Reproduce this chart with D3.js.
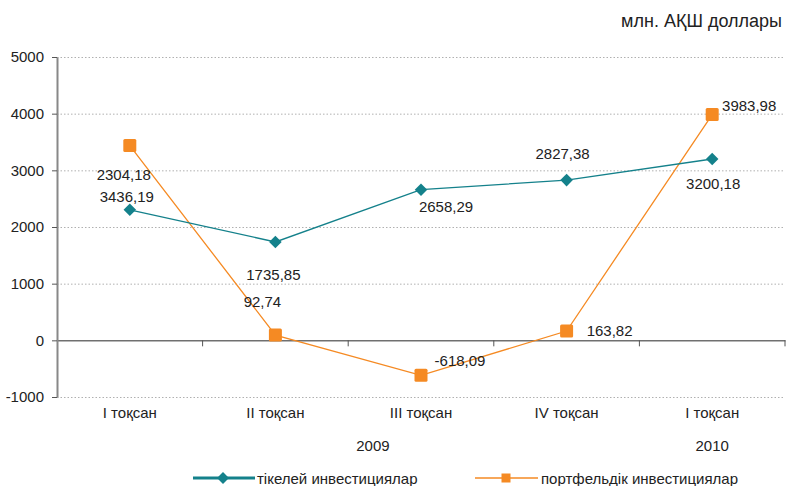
<!DOCTYPE html>
<html><head><meta charset="utf-8">
<script src="https://cdn.jsdelivr.net/npm/d3@7"></script>
<style>body{margin:0;background:#fff}svg{display:block;font-family:"Liberation Sans",Arial,sans-serif}</style>
</head><body>
<script>
const categories = ["I тоқсан","II тоқсан","III тоқсан","IV тоқсан","I тоқсан"];
const years = [{label:"2009", pos:1.67},{label:"2010", pos:4}];
const directInv = [2304.18, 1735.85, 2658.29, 2827.38, 3200.18];
const portfolioInv = [3436.19, 92.74, -618.09, 163.82, 3983.98];
const directLabels = ["3436,19","1735,85","2658,29","2827,38","3200,18"];
const portfolioLabels = ["2304,18","92,74","-618,09","163,82","3983,98"];
const yTicks = [-1000,0,1000,2000,3000,4000,5000];
const seriesNames = ["тікелей инвестициялар","портфельдік инвестициялар"];
const unitTitle = "млн. АҚШ доллары";
// label offsets (layout only)
const directLabelOff = [[-3,-13],[-2,33],[25,17],[-4,-27],[1,25]];
const portfolioLabelOff = [[-6,29],[-13,-34],[39,-15],[43,-1],[37,-9]];

const W=787,H=486, FS=15;
const svg=d3.select("body").append("svg").attr("width",W).attr("height",H);
const x0=57,x1=785,yTop=57,yBot=397;
const x=d3.scaleBand().domain(d3.range(5)).range([x0,x1]);
const y=d3.scaleLinear().domain([-1000,5000]).range([yBot,yTop]);
const cx=i=>x(i)+x.bandwidth()/2;
const teal="#14818b", orange="#f58a23", txt="#222";

// grid
svg.append("g").selectAll("line").data(yTicks.filter(d=>d!==0)).join("line")
 .attr("x1",x0).attr("x2",x1).attr("y1",d=>y(d)+0.5).attr("y2",d=>y(d)+0.5)
 .attr("stroke","#b0b0b0").attr("stroke-dasharray","1.5,2");

// zero axis
const xa=svg.append("g").attr("transform",`translate(0,${y(0)})`)
 .call(d3.axisBottom(x).tickSize(0).tickFormat(""));
xa.select(".domain").attr("stroke","#707070").attr("stroke-width",1.5);
svg.append("g").selectAll("line").data(d3.range(1,6)).join("line")
 .attr("x1",i=>x0+i*x.bandwidth()).attr("x2",i=>x0+i*x.bandwidth())
 .attr("y1",y(0)).attr("y2",y(0)+6).attr("stroke","#555");

// y axis
const ya=svg.append("g").attr("transform",`translate(${x0},0)`)
 .call(d3.axisLeft(y).tickValues(yTicks).tickSize(5).tickSizeOuter(0).tickFormat(d=>String(d)));
ya.select(".domain").attr("stroke","#888").attr("stroke-width",2);
ya.selectAll(".tick line").attr("stroke","#555");
ya.selectAll("text").attr("font-size",FS).attr("fill",txt).attr("x",-13)
 .attr("font-family","'Liberation Sans',Arial,sans-serif");

// category labels
svg.append("g").selectAll("text").data(categories).join("text")
 .attr("x",(d,i)=>cx(i)).attr("y",418).attr("text-anchor","middle")
 .attr("font-size",FS).attr("fill",txt).text(d=>d);
svg.append("g").selectAll("text").data(years).join("text")
 .attr("x",d=>x0+d.pos*x.bandwidth()+x.bandwidth()/2).attr("y",451).attr("text-anchor","middle")
 .attr("font-size",FS).attr("fill",txt).text(d=>d.label);

// lines
const line=d3.line().x((d,i)=>cx(i)).y(d=>y(d));
svg.append("path").datum(portfolioInv).attr("d",line).attr("fill","none").attr("stroke",orange).attr("stroke-width",1.3);
svg.append("path").datum(directInv).attr("d",line).attr("fill","none").attr("stroke",teal).attr("stroke-width",1.3);

// markers
svg.append("g").selectAll("rect").data(portfolioInv).join("rect")
 .attr("x",(d,i)=>cx(i)-6.5).attr("y",d=>y(d)-6.5).attr("width",13).attr("height",13)
 .attr("rx",1.5).attr("fill",orange);
svg.append("g").selectAll("path").data(directInv).join("path")
 .attr("d",d3.symbol(d3.symbolDiamond2,100)).attr("transform",(d,i)=>`translate(${cx(i)},${y(d)})`)
 .attr("fill",teal);

// data labels
svg.append("g").selectAll("text").data(directInv).join("text")
 .attr("x",(d,i)=>cx(i)+directLabelOff[i][0]).attr("y",(d,i)=>y(d)+directLabelOff[i][1]+5.5)
 .attr("text-anchor","middle").attr("font-size",FS).attr("fill",txt).text((d,i)=>directLabels[i]);
svg.append("g").selectAll("text").data(portfolioInv).join("text")
 .attr("x",(d,i)=>cx(i)+portfolioLabelOff[i][0]).attr("y",(d,i)=>y(d)+portfolioLabelOff[i][1]+5.5)
 .attr("text-anchor","middle").attr("font-size",FS).attr("fill",txt).text((d,i)=>portfolioLabels[i]);

// title
svg.append("text").attr("x",782).attr("y",27).attr("text-anchor","end").attr("font-size",18).attr("fill",txt).text(unitTitle);

// legend
const lg=svg.append("g");
lg.append("line").attr("x1",193).attr("x2",255).attr("y1",478).attr("y2",478).attr("stroke",teal).attr("stroke-width",3);
lg.append("path").attr("d",d3.symbol(d3.symbolDiamond2,90)).attr("transform","translate(223,478)").attr("fill",teal);
lg.append("text").attr("x",257).attr("y",483.5).attr("font-size",FS).attr("fill",txt).text(seriesNames[0]);
lg.append("line").attr("x1",475).attr("x2",538).attr("y1",478).attr("y2",478).attr("stroke",orange).attr("stroke-width",1.3);
lg.append("rect").attr("x",501.5).attr("y",473.5).attr("width",9).attr("height",9).attr("fill",orange);
lg.append("text").attr("x",541).attr("y",483.5).attr("font-size",FS).attr("fill",txt).text(seriesNames[1]);
</script>
</body></html>
